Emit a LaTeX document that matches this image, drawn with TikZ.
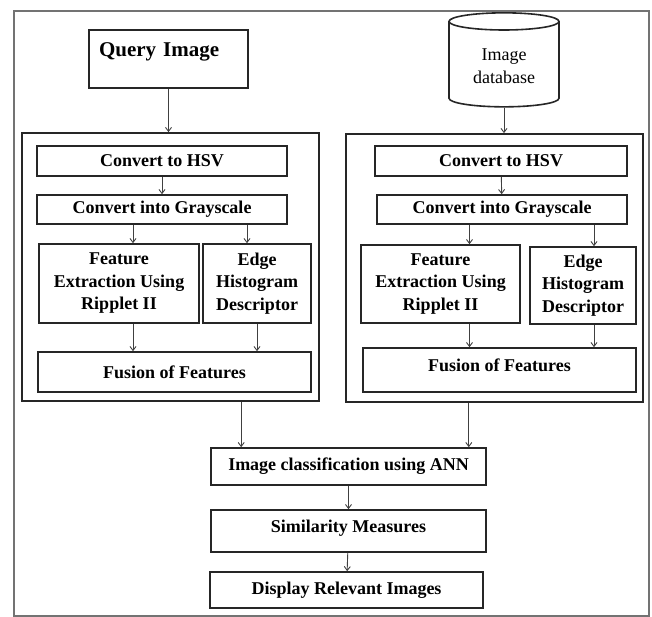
\documentclass[tikz,border=0pt]{standalone}
\usepackage{fontspec}
\setmainfont{Liberation Serif}
\usetikzlibrary{arrows.meta,positioning,shapes.geometric}

\begin{document}
\begin{tikzpicture}[
    x=1pt, y=-1pt,
    box/.style={draw=black!85, line width=1.6pt, align=center, inner sep=0pt, font=\fontsize{18}{22.5}\selectfont\bfseries},
    panel/.style={draw=black!85, line width=1.8pt, minimum width=297pt, minimum height=268pt},
    arr/.style={-{Straight Barb[length=4pt,width=6pt]}, line width=0.9pt, black!75}
]
\useasboundingbox (0,0) rectangle (652,617);
\draw[black!55, line width=2.5pt] (14,11) rectangle (649,616);

% inputs
\node[box, minimum width=159pt, minimum height=58pt, text width=139pt, align=left, text depth=18pt, font=\fontsize{21}{25}\selectfont\bfseries] (query) at (168.5,59) {Query Image};
\node[cylinder, shape border rotate=90, aspect=0.25, draw=black!85, line width=1.6pt, minimum width=110pt, minimum height=94pt, align=center, font=\fontsize{18}{23}\selectfont] (db) at (504,66) {Image\\database};

% left branch
\node[panel] (lp) at (170.5,267) {};
\node[box, minimum width=250pt, minimum height=30pt] (lhsv) at (162,161) {Convert to HSV};
\node[box, minimum width=250pt, minimum height=29pt] (lgray) at (162,209.5) {Convert into Grayscale};
\node[box, minimum width=160pt, minimum height=79pt] (lfeat) at (119,283.5) {Feature\\Extraction Using\\Ripplet II};
\node[box, minimum width=108pt, minimum height=79pt] (ledge) at (257,283.5) {Edge\\Histogram\\Descriptor};
\node[box, minimum width=273pt, minimum height=40pt] (lfus) at (174.5,372) {Fusion of Features};

% right branch
\node[panel] (rp) at (494.5,268) {};
\node[box, minimum width=252pt, minimum height=30pt] (rhsv) at (501,161) {Convert to HSV};
\node[box, minimum width=250pt, minimum height=29pt] (rgray) at (502,209.5) {Convert into Grayscale};
\node[box, minimum width=159pt, minimum height=78pt] (rfeat) at (440.5,284) {Feature\\Extraction Using\\Ripplet II};
\node[box, minimum width=106pt, minimum height=77pt] (redge) at (583,285.5) {Edge\\Histogram\\Descriptor};
\node[box, minimum width=273pt, minimum height=44pt, text depth=10pt] (rfus) at (499.5,370) {Fusion of Features};

% common stages
\node[box, minimum width=275pt, minimum height=37pt] (ann) at (348.5,466.5) {Image classification using ANN};
\node[box, minimum width=275pt, minimum height=42pt, text depth=9pt] (sim) at (348.5,531) {Similarity Measures};
\node[box, minimum width=273pt, minimum height=36pt] (disp) at (346.5,590) {Display Relevant Images};

\coordinate (lfin) at ([xshift=14]lfeat.north);
\coordinate (rfin) at ([xshift=29]rfeat.north);
\coordinate (lein) at ([xshift=-10]ledge.north);
\coordinate (rein) at ([xshift=11]redge.north);
\coordinate (lin) at ([xshift=31]ann.north west);
\coordinate (rin) at ([xshift=-18]ann.north east);

\draw[arr] (query) -- (query |- lp.north);
\draw[arr] (db) -- (db |- rp.north);

\draw[arr] (lhsv) -- (lgray);
\draw[arr] (lfin |- lgray.south) -- (lfin);
\draw[arr] (lein |- lgray.south) -- (lein);
\draw[arr] (lfin |- lfeat.south) -- (lfin |- lfus.north);
\draw[arr] (ledge) -- (ledge |- lfus.north);

\draw[arr] (rhsv) -- (rgray);
\draw[arr] (rfin |- rgray.south) -- (rfin);
\draw[arr] (rein |- rgray.south) -- (rein);
\draw[arr] (rfin |- rfeat.south) -- (rfin |- rfus.north);
\draw[arr] (rein |- redge.south) -- (rein |- rfus.north);

\draw[arr] (lin |- lp.south) -- (lin);
\draw[arr] (rin |- rp.south) -- (rin);
\draw[arr] (ann) -- (sim);
\draw[arr] (sim) -- (disp);
\end{tikzpicture}
\end{document}
